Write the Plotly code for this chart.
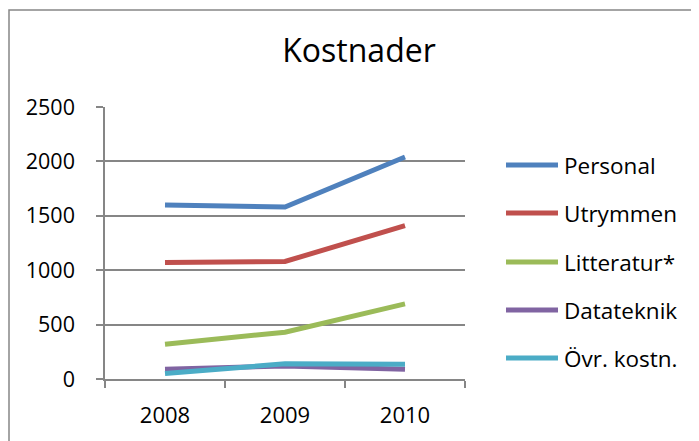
import plotly.graph_objects as go

years = ["2008", "2009", "2010"]
series_names = ["Personal", "Utrymmen", "Litteratur*", "Datateknik", "Övr. kostn."]
personal = [1600, 1580, 2040]
utrymmen = [1070, 1080, 1410]
litteratur = [320, 430, 690]
datateknik = [90, 120, 90]
ovr_kostn = [50, 140, 135]
y_ticks = [0, 500, 1000, 1500, 2000, 2500]

values = [personal, utrymmen, litteratur, datateknik, ovr_kostn]
colors = ["#4F81BD", "#C0504D", "#9BBB59", "#8064A2", "#4BACC6"]

# page body has an 8px margin; work in page pixels and shift
OFF = 8
W, H = 699 - OFF, 441 - OFF
L, R, T, B = 105 - OFF, 465 - OFF, 107 - OFF, 379 - OFF
PW, PH = R - L, B - T

def px_x(px):
    return (px - OFF - L) / PW

def px_y(py):
    return (B - (py - OFF)) / PH

FONT = "Open Sans"
GRAY = "#868686"

fig = go.Figure()
for name, vals, col in zip(series_names, values, colors):
    fig.add_trace(go.Scatter(x=years, y=vals, name=name, mode="lines",
                             line=dict(color=col, width=5), showlegend=False))

shapes = []
annotations = []
# chart border (extends past the image on right/bottom)
shapes.append(dict(type="rect", xref="paper", yref="paper",
                   x0=px_x(9), x1=px_x(730), y0=px_y(470), y1=px_y(10),
                   line=dict(color=GRAY, width=1.5), fillcolor="rgba(0,0,0,0)", layer="below"))

# custom legend
row_y = [165, 213, 262, 310, 358]
for name, col, ry in zip(series_names, colors, row_y):
    shapes.append(dict(type="line", xref="paper", yref="paper",
                       x0=px_x(506), x1=px_x(558), y0=px_y(ry), y1=px_y(ry),
                       line=dict(color=col, width=5)))
    annotations.append(dict(xref="paper", yref="paper", x=px_x(562), y=px_y(ry),
                            xanchor="left", yanchor="middle", text=name, showarrow=False,
                            font=dict(family=FONT, size=22.5, color="#000000")))

fig.update_layout(
    width=W, height=H,
    margin=dict(l=L, r=W - R, t=T, b=H - B, pad=0),
    paper_bgcolor="white", plot_bgcolor="white",
    title=dict(text="Kostnader", x=(359 - OFF) / W, xanchor="center", xref="container",
               y=1 - (51 - OFF) / H, yanchor="middle", yref="container",
               font=dict(family=FONT, size=32, color="#000000")),
    font=dict(family=FONT, size=21, color="#000000"),
    shapes=shapes, annotations=annotations,
    xaxis=dict(type="category", range=[-0.5, 2.5], tickson="boundaries",
               ticks="outside", ticklen=7, tickcolor=GRAY, tickwidth=1.5,
               showline=True, linecolor=GRAY, linewidth=1.5, showgrid=False,
               tickfont=dict(family=FONT, size=22, color="#000000"),
               ticklabelstandoff=16, fixedrange=True, automargin=False),
    yaxis=dict(range=[0, 2500], tickvals=y_ticks, ticks="outside", ticklen=7,
               tickcolor=GRAY, tickwidth=1.5, showline=True, linecolor=GRAY, linewidth=1.5,
               showgrid=True, gridcolor=GRAY, gridwidth=1.5, zeroline=False,
               tickfont=dict(family=FONT, size=21.5, color="#000000"),
               ticklabelstandoff=17, fixedrange=True, automargin=False),
)

fig.write_html("out.html")
